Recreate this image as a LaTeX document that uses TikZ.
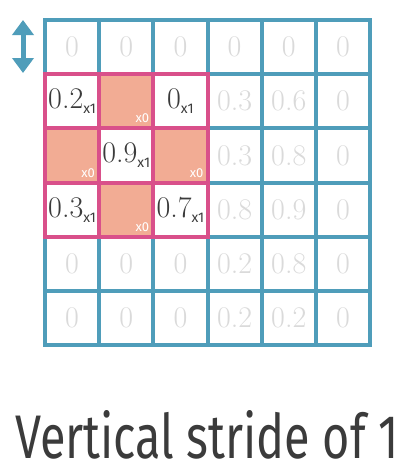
\documentclass[tikz,border=0pt]{standalone}
\usepackage{fontspec}
\setsansfont{Fira Sans}
\usetikzlibrary{arrows.meta}
\definecolor{gridblue}{HTML}{4F9DBA}
\definecolor{winpink}{HTML}{D9508A}
\definecolor{salmon}{HTML}{F2AC94}
\definecolor{faint}{HTML}{DADADA}
\definecolor{ink}{HTML}{3B3B3B}
\tikzset{
  cell/.style={draw=gridblue, line width=4pt, minimum size=54.17pt, inner sep=0pt,
    text=faint, font=\fontsize{30}{30}\selectfont},
  keep/.style={cell, draw=winpink, fill=white, text=ink},
  drop/.style={cell, draw=winpink, fill=salmon},
  weight/.style={font=\sffamily\fontsize{13}{13}\selectfont, inner sep=0pt},
  stride/.style={gridblue, line width=5pt, {Triangle[width=21pt,length=15pt]}-{Triangle[width=21pt,length=15pt]}}
}
\newcommand{\cellat}[2]{({45+54.17*(#2+.5)},{20+54.17*(#1+.5)})}
\begin{document}
\begin{tikzpicture}[x=1pt,y=-1pt]
\useasboundingbox[fill=white] (0,0) rectangle (419,475);
% input cells outside the window
\foreach \r/\c/\v in {0/0/0,0/1/0,0/2/0,0/3/0,0/4/0,0/5/0,
    1/3/0.3,1/4/0.6,1/5/0,2/3/0.3,2/4/0.8,2/5/0,3/3/0.8,3/4/0.9,3/5/0,
    4/0/0,4/1/0,4/2/0,4/3/0.2,4/4/0.8,4/5/0,
    5/0/0,5/1/0,5/2/0,5/3/0.2,5/4/0.2,5/5/0}
  \node[cell] (c\r\c) at \cellat{\r}{\c} {\v};
% window: kept cells
\foreach \r/\c/\v in {1/0/0.2,1/2/0,2/1/0.9,3/0/0.3,3/2/0.7}
  \node[keep] (c\r\c) at \cellat{\r}{\c} {\v\raisebox{-5pt}{\sffamily\fontsize{14}{14}\selectfont x1}};
% window: dropped cells
\foreach \r/\c in {1/1,2/0,2/2,3/1}{
  \node[drop] (c\r\c) at \cellat{\r}{\c} {};
  \node[weight, text=white, anchor=south east] (w\r\c) at ([xshift=-6pt,yshift=7pt]c\r\c.south east) {x0};
}
\coordinate (top) at (23,20);
\coordinate (bot) at (23,73);
\draw[stride] (top) -- (bot);
\node[text=ink, inner sep=0pt, anchor=base] (title) at (207,458)
  {\resizebox{383pt}{48pt}{\sffamily Vertical stride of 1}};
\end{tikzpicture}
\end{document}
